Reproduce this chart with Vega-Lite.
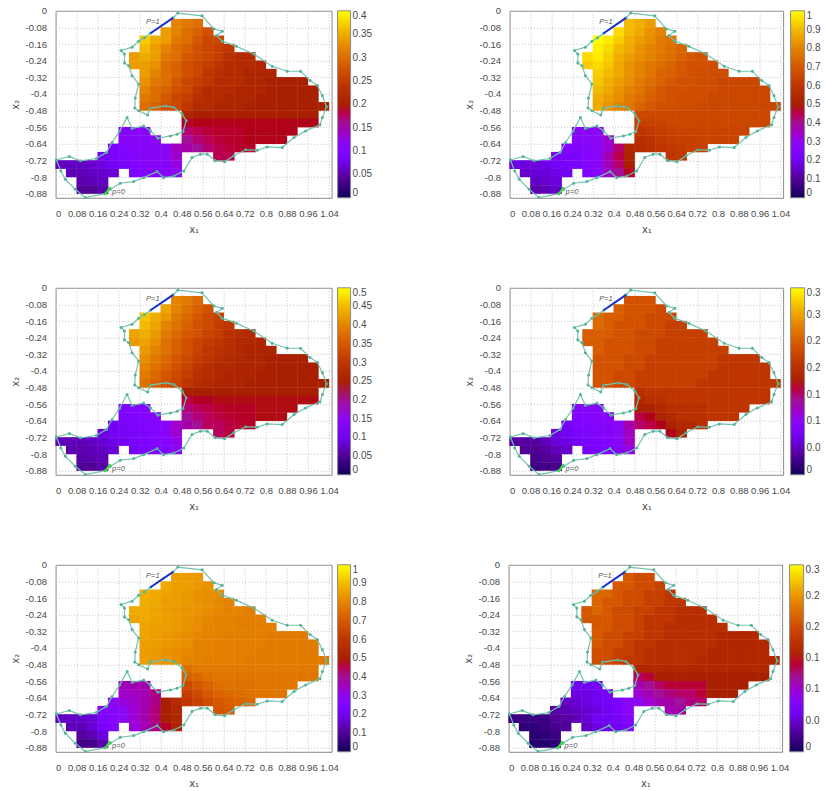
{"$schema":"https://vega.github.io/schema/vega-lite/v6.json","padding":{"left":9.6,"top":4.8,"right":0,"bottom":0},"background":"white","config":{"view":{"stroke":"#8a8a8a"},"axis":{"grid":true,"gridColor":"#c4c4c4","gridDash":[1,2],"ticks":false,"domain":false,"labelFont":"Liberation Sans","labelFontSize":9.5,"labelColor":"#4a4a4a","titleFont":"DejaVu Sans","titleFontSize":10,"titleFontWeight":"normal","titleColor":"#4a4a4a"},"legend":{"labelFont":"Liberation Sans","labelFontSize":10,"labelColor":"#4a4a4a","gradientStrokeColor":"#8a8a8a","gradientStrokeWidth":1,"labelOverlap":false}},
"datasets":{"cells":[
{"x":0.46,"y":-0.06,"a":0.32,"b":0.90,"c":0.40,"d":0.24,"e":0.85,"f":0.21},{"x":0.50,"y":-0.06,"a":0.31,"b":0.88,"c":0.39,"d":0.24,"e":0.85,"f":0.20},{"x":0.54,"y":-0.06,"a":0.30,"b":0.85,"c":0.37,"d":0.24,"e":0.84,"f":0.20},
{"x":0.42,"y":-0.10,"a":0.34,"b":0.95,"c":0.43,"d":0.25,"e":0.87,"f":0.21},{"x":0.46,"y":-0.10,"a":0.32,"b":0.90,"c":0.40,"d":0.24,"e":0.85,"f":0.21},{"x":0.50,"y":-0.10,"a":0.30,"b":0.87,"c":0.38,"d":0.24,"e":0.85,"f":0.20},{"x":0.54,"y":-0.10,"a":0.29,"b":0.83,"c":0.36,"d":0.24,"e":0.84,"f":0.20},{"x":0.58,"y":-0.10,"a":0.27,"b":0.80,"c":0.34,"d":0.23,"e":0.83,"f":0.19},
{"x":0.34,"y":-0.14,"a":0.37,"b":1.00,"c":0.46,"d":0.26,"e":0.88,"f":0.22},{"x":0.38,"y":-0.14,"a":0.35,"b":0.97,"c":0.44,"d":0.25,"e":0.87,"f":0.22},{"x":0.42,"y":-0.14,"a":0.34,"b":0.93,"c":0.42,"d":0.25,"e":0.86,"f":0.21},{"x":0.46,"y":-0.14,"a":0.31,"b":0.88,"c":0.39,"d":0.24,"e":0.85,"f":0.20},{"x":0.50,"y":-0.14,"a":0.30,"b":0.85,"c":0.37,"d":0.24,"e":0.84,"f":0.20},{"x":0.54,"y":-0.14,"a":0.28,"b":0.82,"c":0.35,"d":0.23,"e":0.83,"f":0.19},{"x":0.58,"y":-0.14,"a":0.26,"b":0.78,"c":0.33,"d":0.23,"e":0.82,"f":0.19},{"x":0.62,"y":-0.14,"a":0.26,"b":0.77,"c":0.32,"d":0.23,"e":0.82,"f":0.18},
{"x":0.34,"y":-0.18,"a":0.36,"b":0.98,"c":0.45,"d":0.26,"e":0.88,"f":0.22},{"x":0.38,"y":-0.18,"a":0.34,"b":0.95,"c":0.43,"d":0.25,"e":0.87,"f":0.21},{"x":0.42,"y":-0.18,"a":0.32,"b":0.90,"c":0.40,"d":0.24,"e":0.85,"f":0.21},{"x":0.46,"y":-0.18,"a":0.30,"b":0.87,"c":0.38,"d":0.24,"e":0.85,"f":0.20},{"x":0.50,"y":-0.18,"a":0.29,"b":0.83,"c":0.36,"d":0.24,"e":0.84,"f":0.20},{"x":0.54,"y":-0.18,"a":0.27,"b":0.80,"c":0.34,"d":0.23,"e":0.83,"f":0.19},{"x":0.58,"y":-0.18,"a":0.26,"b":0.78,"c":0.33,"d":0.23,"e":0.82,"f":0.19},{"x":0.62,"y":-0.18,"a":0.25,"b":0.75,"c":0.31,"d":0.22,"e":0.81,"f":0.18},{"x":0.66,"y":-0.18,"a":0.24,"b":0.73,"c":0.30,"d":0.22,"e":0.80,"f":0.18},
{"x":0.30,"y":-0.22,"a":0.34,"b":0.95,"c":0.43,"d":0.25,"e":0.87,"f":0.21},{"x":0.34,"y":-0.22,"a":0.35,"b":0.97,"c":0.44,"d":0.25,"e":0.87,"f":0.22},{"x":0.38,"y":-0.22,"a":0.34,"b":0.93,"c":0.42,"d":0.25,"e":0.86,"f":0.21},{"x":0.42,"y":-0.22,"a":0.31,"b":0.88,"c":0.39,"d":0.24,"e":0.85,"f":0.20},{"x":0.46,"y":-0.22,"a":0.30,"b":0.85,"c":0.37,"d":0.24,"e":0.84,"f":0.20},{"x":0.50,"y":-0.22,"a":0.28,"b":0.82,"c":0.35,"d":0.23,"e":0.83,"f":0.19},{"x":0.54,"y":-0.22,"a":0.27,"b":0.80,"c":0.34,"d":0.23,"e":0.83,"f":0.19},{"x":0.58,"y":-0.22,"a":0.26,"b":0.77,"c":0.32,"d":0.23,"e":0.82,"f":0.18},{"x":0.62,"y":-0.22,"a":0.25,"b":0.75,"c":0.31,"d":0.22,"e":0.81,"f":0.18},{"x":0.66,"y":-0.22,"a":0.23,"b":0.72,"c":0.29,"d":0.22,"e":0.80,"f":0.17},{"x":0.70,"y":-0.22,"a":0.22,"b":0.70,"c":0.28,"d":0.22,"e":0.80,"f":0.17},{"x":0.74,"y":-0.22,"a":0.22,"b":0.68,"c":0.27,"d":0.22,"e":0.79,"f":0.17},
{"x":0.30,"y":-0.26,"a":0.34,"b":0.93,"c":0.42,"d":0.25,"e":0.86,"f":0.21},{"x":0.34,"y":-0.26,"a":0.34,"b":0.95,"c":0.43,"d":0.25,"e":0.87,"f":0.21},{"x":0.38,"y":-0.26,"a":0.33,"b":0.92,"c":0.41,"d":0.24,"e":0.86,"f":0.21},{"x":0.42,"y":-0.26,"a":0.30,"b":0.87,"c":0.38,"d":0.24,"e":0.85,"f":0.20},{"x":0.46,"y":-0.26,"a":0.29,"b":0.83,"c":0.36,"d":0.24,"e":0.84,"f":0.20},{"x":0.50,"y":-0.26,"a":0.27,"b":0.80,"c":0.34,"d":0.23,"e":0.83,"f":0.19},{"x":0.54,"y":-0.26,"a":0.26,"b":0.77,"c":0.32,"d":0.23,"e":0.82,"f":0.18},{"x":0.58,"y":-0.26,"a":0.25,"b":0.75,"c":0.31,"d":0.22,"e":0.81,"f":0.18},{"x":0.62,"y":-0.26,"a":0.24,"b":0.73,"c":0.30,"d":0.22,"e":0.80,"f":0.18},{"x":0.66,"y":-0.26,"a":0.22,"b":0.70,"c":0.28,"d":0.22,"e":0.80,"f":0.17},{"x":0.70,"y":-0.26,"a":0.22,"b":0.68,"c":0.27,"d":0.22,"e":0.79,"f":0.17},{"x":0.74,"y":-0.26,"a":0.22,"b":0.68,"c":0.27,"d":0.22,"e":0.79,"f":0.17},{"x":0.78,"y":-0.26,"a":0.21,"b":0.67,"c":0.26,"d":0.22,"e":0.79,"f":0.17},
{"x":0.34,"y":-0.30,"a":0.34,"b":0.93,"c":0.42,"d":0.25,"e":0.86,"f":0.21},{"x":0.38,"y":-0.30,"a":0.32,"b":0.90,"c":0.40,"d":0.24,"e":0.85,"f":0.21},{"x":0.42,"y":-0.30,"a":0.30,"b":0.87,"c":0.38,"d":0.24,"e":0.85,"f":0.20},{"x":0.46,"y":-0.30,"a":0.29,"b":0.83,"c":0.36,"d":0.24,"e":0.84,"f":0.20},{"x":0.50,"y":-0.30,"a":0.27,"b":0.80,"c":0.34,"d":0.23,"e":0.83,"f":0.19},{"x":0.54,"y":-0.30,"a":0.26,"b":0.77,"c":0.32,"d":0.23,"e":0.82,"f":0.18},{"x":0.58,"y":-0.30,"a":0.24,"b":0.73,"c":0.30,"d":0.22,"e":0.80,"f":0.18},{"x":0.62,"y":-0.30,"a":0.23,"b":0.72,"c":0.29,"d":0.22,"e":0.80,"f":0.17},{"x":0.66,"y":-0.30,"a":0.22,"b":0.70,"c":0.28,"d":0.22,"e":0.80,"f":0.17},{"x":0.70,"y":-0.30,"a":0.22,"b":0.68,"c":0.27,"d":0.22,"e":0.79,"f":0.17},{"x":0.74,"y":-0.30,"a":0.21,"b":0.67,"c":0.26,"d":0.22,"e":0.79,"f":0.17},{"x":0.78,"y":-0.30,"a":0.21,"b":0.67,"c":0.26,"d":0.22,"e":0.79,"f":0.17},{"x":0.82,"y":-0.30,"a":0.21,"b":0.67,"c":0.26,"d":0.22,"e":0.79,"f":0.17},
{"x":0.34,"y":-0.34,"a":0.33,"b":0.92,"c":0.41,"d":0.24,"e":0.86,"f":0.21},{"x":0.38,"y":-0.34,"a":0.31,"b":0.88,"c":0.39,"d":0.24,"e":0.85,"f":0.20},{"x":0.42,"y":-0.34,"a":0.30,"b":0.85,"c":0.37,"d":0.24,"e":0.84,"f":0.20},{"x":0.46,"y":-0.34,"a":0.28,"b":0.82,"c":0.35,"d":0.23,"e":0.83,"f":0.19},{"x":0.50,"y":-0.34,"a":0.26,"b":0.78,"c":0.33,"d":0.23,"e":0.82,"f":0.19},{"x":0.54,"y":-0.34,"a":0.25,"b":0.75,"c":0.31,"d":0.22,"e":0.81,"f":0.18},{"x":0.58,"y":-0.34,"a":0.24,"b":0.73,"c":0.30,"d":0.22,"e":0.80,"f":0.18},{"x":0.62,"y":-0.34,"a":0.22,"b":0.70,"c":0.28,"d":0.22,"e":0.80,"f":0.17},{"x":0.66,"y":-0.34,"a":0.22,"b":0.68,"c":0.27,"d":0.22,"e":0.79,"f":0.17},{"x":0.70,"y":-0.34,"a":0.22,"b":0.68,"c":0.27,"d":0.22,"e":0.79,"f":0.17},{"x":0.74,"y":-0.34,"a":0.21,"b":0.67,"c":0.26,"d":0.22,"e":0.79,"f":0.17},{"x":0.78,"y":-0.34,"a":0.21,"b":0.67,"c":0.26,"d":0.22,"e":0.79,"f":0.17},{"x":0.82,"y":-0.34,"a":0.20,"b":0.65,"c":0.25,"d":0.21,"e":0.78,"f":0.16},{"x":0.86,"y":-0.34,"a":0.20,"b":0.65,"c":0.25,"d":0.21,"e":0.78,"f":0.16},{"x":0.90,"y":-0.34,"a":0.20,"b":0.65,"c":0.25,"d":0.21,"e":0.78,"f":0.16},{"x":0.94,"y":-0.34,"a":0.20,"b":0.65,"c":0.25,"d":0.21,"e":0.78,"f":0.16},
{"x":0.34,"y":-0.38,"a":0.32,"b":0.90,"c":0.40,"d":0.24,"e":0.85,"f":0.21},{"x":0.38,"y":-0.38,"a":0.30,"b":0.87,"c":0.38,"d":0.24,"e":0.85,"f":0.20},{"x":0.42,"y":-0.38,"a":0.29,"b":0.83,"c":0.36,"d":0.24,"e":0.84,"f":0.20},{"x":0.46,"y":-0.38,"a":0.27,"b":0.80,"c":0.34,"d":0.23,"e":0.83,"f":0.19},{"x":0.50,"y":-0.38,"a":0.26,"b":0.77,"c":0.32,"d":0.23,"e":0.82,"f":0.18},{"x":0.54,"y":-0.38,"a":0.24,"b":0.73,"c":0.30,"d":0.22,"e":0.80,"f":0.18},{"x":0.58,"y":-0.38,"a":0.22,"b":0.70,"c":0.28,"d":0.22,"e":0.80,"f":0.17},{"x":0.62,"y":-0.38,"a":0.22,"b":0.68,"c":0.27,"d":0.22,"e":0.79,"f":0.17},{"x":0.66,"y":-0.38,"a":0.22,"b":0.68,"c":0.27,"d":0.22,"e":0.79,"f":0.17},{"x":0.70,"y":-0.38,"a":0.21,"b":0.67,"c":0.26,"d":0.22,"e":0.79,"f":0.17},{"x":0.74,"y":-0.38,"a":0.21,"b":0.67,"c":0.26,"d":0.22,"e":0.79,"f":0.17},{"x":0.78,"y":-0.38,"a":0.21,"b":0.67,"c":0.26,"d":0.22,"e":0.79,"f":0.17},{"x":0.82,"y":-0.38,"a":0.20,"b":0.65,"c":0.25,"d":0.21,"e":0.78,"f":0.16},{"x":0.86,"y":-0.38,"a":0.20,"b":0.65,"c":0.25,"d":0.21,"e":0.78,"f":0.16},{"x":0.90,"y":-0.38,"a":0.20,"b":0.65,"c":0.25,"d":0.21,"e":0.78,"f":0.16},{"x":0.94,"y":-0.38,"a":0.20,"b":0.65,"c":0.25,"d":0.21,"e":0.78,"f":0.16},{"x":0.98,"y":-0.38,"a":0.20,"b":0.65,"c":0.25,"d":0.21,"e":0.78,"f":0.16},
{"x":0.34,"y":-0.42,"a":0.31,"b":0.88,"c":0.39,"d":0.24,"e":0.85,"f":0.20},{"x":0.38,"y":-0.42,"a":0.30,"b":0.85,"c":0.37,"d":0.24,"e":0.84,"f":0.20},{"x":0.42,"y":-0.42,"a":0.28,"b":0.82,"c":0.35,"d":0.23,"e":0.83,"f":0.19},{"x":0.46,"y":-0.42,"a":0.26,"b":0.78,"c":0.33,"d":0.23,"e":0.82,"f":0.19},{"x":0.50,"y":-0.42,"a":0.25,"b":0.75,"c":0.31,"d":0.22,"e":0.81,"f":0.18},{"x":0.54,"y":-0.42,"a":0.23,"b":0.72,"c":0.29,"d":0.22,"e":0.80,"f":0.17},{"x":0.58,"y":-0.42,"a":0.22,"b":0.70,"c":0.28,"d":0.22,"e":0.80,"f":0.17},{"x":0.62,"y":-0.42,"a":0.22,"b":0.68,"c":0.27,"d":0.22,"e":0.79,"f":0.17},{"x":0.66,"y":-0.42,"a":0.21,"b":0.67,"c":0.26,"d":0.22,"e":0.79,"f":0.17},{"x":0.70,"y":-0.42,"a":0.21,"b":0.67,"c":0.26,"d":0.22,"e":0.79,"f":0.17},{"x":0.74,"y":-0.42,"a":0.21,"b":0.67,"c":0.26,"d":0.22,"e":0.79,"f":0.17},{"x":0.78,"y":-0.42,"a":0.20,"b":0.65,"c":0.25,"d":0.21,"e":0.78,"f":0.16},{"x":0.82,"y":-0.42,"a":0.20,"b":0.65,"c":0.25,"d":0.21,"e":0.78,"f":0.16},{"x":0.86,"y":-0.42,"a":0.20,"b":0.65,"c":0.25,"d":0.21,"e":0.78,"f":0.16},{"x":0.90,"y":-0.42,"a":0.20,"b":0.65,"c":0.25,"d":0.21,"e":0.78,"f":0.16},{"x":0.94,"y":-0.42,"a":0.20,"b":0.65,"c":0.25,"d":0.21,"e":0.78,"f":0.16},{"x":0.98,"y":-0.42,"a":0.20,"b":0.65,"c":0.25,"d":0.21,"e":0.78,"f":0.16},
{"x":0.34,"y":-0.46,"a":0.30,"b":0.87,"c":0.38,"d":0.24,"e":0.85,"f":0.20},{"x":0.38,"y":-0.46,"a":0.29,"b":0.83,"c":0.36,"d":0.24,"e":0.84,"f":0.20},{"x":0.42,"y":-0.46,"a":0.27,"b":0.80,"c":0.34,"d":0.23,"e":0.83,"f":0.19},{"x":0.46,"y":-0.46,"a":0.26,"b":0.77,"c":0.32,"d":0.23,"e":0.82,"f":0.18},{"x":0.50,"y":-0.46,"a":0.24,"b":0.73,"c":0.30,"d":0.22,"e":0.80,"f":0.18},{"x":0.54,"y":-0.46,"a":0.22,"b":0.70,"c":0.28,"d":0.22,"e":0.80,"f":0.17},{"x":0.58,"y":-0.46,"a":0.22,"b":0.68,"c":0.27,"d":0.22,"e":0.79,"f":0.17},{"x":0.62,"y":-0.46,"a":0.21,"b":0.67,"c":0.26,"d":0.22,"e":0.79,"f":0.17},{"x":0.66,"y":-0.46,"a":0.21,"b":0.67,"c":0.26,"d":0.22,"e":0.79,"f":0.17},{"x":0.70,"y":-0.46,"a":0.21,"b":0.67,"c":0.26,"d":0.22,"e":0.79,"f":0.17},{"x":0.74,"y":-0.46,"a":0.20,"b":0.65,"c":0.25,"d":0.21,"e":0.78,"f":0.16},{"x":0.78,"y":-0.46,"a":0.20,"b":0.65,"c":0.25,"d":0.21,"e":0.78,"f":0.16},{"x":0.82,"y":-0.46,"a":0.20,"b":0.65,"c":0.25,"d":0.21,"e":0.78,"f":0.16},{"x":0.86,"y":-0.46,"a":0.20,"b":0.65,"c":0.25,"d":0.21,"e":0.78,"f":0.16},{"x":0.90,"y":-0.46,"a":0.20,"b":0.65,"c":0.25,"d":0.21,"e":0.78,"f":0.16},{"x":0.94,"y":-0.46,"a":0.20,"b":0.65,"c":0.25,"d":0.21,"e":0.78,"f":0.16},{"x":0.98,"y":-0.46,"a":0.20,"b":0.65,"c":0.25,"d":0.21,"e":0.78,"f":0.16},{"x":1.02,"y":-0.46,"a":0.20,"b":0.65,"c":0.25,"d":0.21,"e":0.78,"f":0.16},
{"x":0.50,"y":-0.50,"a":0.21,"b":0.66,"c":0.25,"d":0.20,"e":0.76,"f":0.16},{"x":0.54,"y":-0.50,"a":0.20,"b":0.65,"c":0.25,"d":0.21,"e":0.78,"f":0.16},{"x":0.58,"y":-0.50,"a":0.20,"b":0.65,"c":0.25,"d":0.21,"e":0.78,"f":0.16},{"x":0.62,"y":-0.50,"a":0.20,"b":0.65,"c":0.25,"d":0.21,"e":0.78,"f":0.16},{"x":0.66,"y":-0.50,"a":0.20,"b":0.65,"c":0.25,"d":0.21,"e":0.78,"f":0.16},{"x":0.70,"y":-0.50,"a":0.20,"b":0.65,"c":0.25,"d":0.21,"e":0.78,"f":0.16},{"x":0.74,"y":-0.50,"a":0.20,"b":0.65,"c":0.25,"d":0.21,"e":0.78,"f":0.16},{"x":0.78,"y":-0.50,"a":0.20,"b":0.65,"c":0.25,"d":0.21,"e":0.78,"f":0.16},{"x":0.82,"y":-0.50,"a":0.20,"b":0.65,"c":0.25,"d":0.21,"e":0.78,"f":0.16},{"x":0.86,"y":-0.50,"a":0.20,"b":0.65,"c":0.25,"d":0.21,"e":0.78,"f":0.16},{"x":0.90,"y":-0.50,"a":0.20,"b":0.65,"c":0.25,"d":0.21,"e":0.78,"f":0.16},{"x":0.94,"y":-0.50,"a":0.20,"b":0.65,"c":0.25,"d":0.21,"e":0.78,"f":0.16},{"x":0.98,"y":-0.50,"a":0.20,"b":0.65,"c":0.25,"d":0.21,"e":0.78,"f":0.16},
{"x":0.50,"y":-0.54,"a":0.19,"b":0.63,"c":0.23,"d":0.19,"e":0.72,"f":0.13},{"x":0.54,"y":-0.54,"a":0.195,"b":0.64,"c":0.24,"d":0.20,"e":0.74,"f":0.14},{"x":0.58,"y":-0.54,"a":0.195,"b":0.64,"c":0.24,"d":0.20,"e":0.76,"f":0.15},{"x":0.62,"y":-0.54,"a":0.195,"b":0.65,"c":0.245,"d":0.21,"e":0.77,"f":0.15},{"x":0.66,"y":-0.54,"a":0.195,"b":0.65,"c":0.245,"d":0.21,"e":0.77,"f":0.15},{"x":0.70,"y":-0.54,"a":0.195,"b":0.65,"c":0.245,"d":0.21,"e":0.77,"f":0.15},{"x":0.74,"y":-0.54,"a":0.195,"b":0.65,"c":0.245,"d":0.21,"e":0.77,"f":0.15},{"x":0.78,"y":-0.54,"a":0.195,"b":0.65,"c":0.245,"d":0.21,"e":0.77,"f":0.15},{"x":0.82,"y":-0.54,"a":0.195,"b":0.65,"c":0.245,"d":0.21,"e":0.77,"f":0.15},{"x":0.86,"y":-0.54,"a":0.195,"b":0.65,"c":0.245,"d":0.21,"e":0.77,"f":0.15},{"x":0.90,"y":-0.54,"a":0.195,"b":0.65,"c":0.245,"d":0.21,"e":0.77,"f":0.15},{"x":0.94,"y":-0.54,"a":0.195,"b":0.65,"c":0.245,"d":0.21,"e":0.77,"f":0.15},{"x":0.98,"y":-0.54,"a":0.195,"b":0.65,"c":0.245,"d":0.21,"e":0.77,"f":0.15},
{"x":0.26,"y":-0.58,"a":0.11,"b":0.28,"c":0.125,"d":0.095,"e":0.36,"f":0.06},{"x":0.30,"y":-0.58,"a":0.11,"b":0.28,"c":0.13,"d":0.095,"e":0.36,"f":0.06},{"x":0.34,"y":-0.58,"a":0.11,"b":0.30,"c":0.13,"d":0.095,"e":0.37,"f":0.06},{"x":0.50,"y":-0.58,"a":0.17,"b":0.60,"c":0.21,"d":0.18,"e":0.66,"f":0.11},{"x":0.54,"y":-0.58,"a":0.18,"b":0.61,"c":0.22,"d":0.18,"e":0.70,"f":0.12},{"x":0.58,"y":-0.58,"a":0.185,"b":0.62,"c":0.23,"d":0.19,"e":0.73,"f":0.13},{"x":0.62,"y":-0.58,"a":0.19,"b":0.63,"c":0.235,"d":0.20,"e":0.75,"f":0.14},{"x":0.66,"y":-0.58,"a":0.19,"b":0.64,"c":0.24,"d":0.20,"e":0.76,"f":0.14},{"x":0.70,"y":-0.58,"a":0.19,"b":0.64,"c":0.24,"d":0.20,"e":0.76,"f":0.14},{"x":0.74,"y":-0.58,"a":0.195,"b":0.64,"c":0.24,"d":0.20,"e":0.76,"f":0.14},{"x":0.78,"y":-0.58,"a":0.195,"b":0.64,"c":0.245,"d":0.21,"e":0.77,"f":0.15},{"x":0.82,"y":-0.58,"a":0.195,"b":0.64,"c":0.245,"d":0.21,"e":0.77,"f":0.15},{"x":0.86,"y":-0.58,"a":0.195,"b":0.64,"c":0.245,"d":0.21,"e":0.77,"f":0.15},{"x":0.90,"y":-0.58,"a":0.195,"b":0.64,"c":0.245,"d":0.21,"e":0.77,"f":0.15},
{"x":0.26,"y":-0.62,"a":0.11,"b":0.27,"c":0.12,"d":0.09,"e":0.34,"f":0.055},{"x":0.30,"y":-0.62,"a":0.11,"b":0.28,"c":0.125,"d":0.09,"e":0.35,"f":0.055},{"x":0.34,"y":-0.62,"a":0.11,"b":0.30,"c":0.13,"d":0.095,"e":0.37,"f":0.06},{"x":0.38,"y":-0.62,"a":0.12,"b":0.33,"c":0.135,"d":0.095,"e":0.41,"f":0.065},{"x":0.50,"y":-0.62,"a":0.16,"b":0.57,"c":0.20,"d":0.16,"e":0.62,"f":0.10},{"x":0.54,"y":-0.62,"a":0.17,"b":0.59,"c":0.21,"d":0.17,"e":0.66,"f":0.11},{"x":0.58,"y":-0.62,"a":0.18,"b":0.61,"c":0.22,"d":0.18,"e":0.70,"f":0.12},{"x":0.62,"y":-0.62,"a":0.185,"b":0.62,"c":0.23,"d":0.19,"e":0.73,"f":0.125},{"x":0.66,"y":-0.62,"a":0.19,"b":0.63,"c":0.235,"d":0.20,"e":0.74,"f":0.13},{"x":0.70,"y":-0.62,"a":0.19,"b":0.63,"c":0.24,"d":0.20,"e":0.75,"f":0.13},{"x":0.74,"y":-0.62,"a":0.195,"b":0.64,"c":0.24,"d":0.20,"e":0.76,"f":0.14},{"x":0.78,"y":-0.62,"a":0.195,"b":0.64,"c":0.245,"d":0.21,"e":0.77,"f":0.15},{"x":0.82,"y":-0.62,"a":0.195,"b":0.64,"c":0.245,"d":0.21,"e":0.77,"f":0.15},{"x":0.86,"y":-0.62,"a":0.195,"b":0.64,"c":0.245,"d":0.21,"e":0.77,"f":0.15},
{"x":0.22,"y":-0.66,"a":0.095,"b":0.25,"c":0.105,"d":0.075,"e":0.30,"f":0.045},{"x":0.26,"y":-0.66,"a":0.10,"b":0.26,"c":0.115,"d":0.085,"e":0.32,"f":0.05},{"x":0.30,"y":-0.66,"a":0.11,"b":0.27,"c":0.12,"d":0.09,"e":0.34,"f":0.055},{"x":0.34,"y":-0.66,"a":0.11,"b":0.29,"c":0.125,"d":0.09,"e":0.37,"f":0.06},{"x":0.38,"y":-0.66,"a":0.11,"b":0.33,"c":0.13,"d":0.095,"e":0.41,"f":0.065},{"x":0.42,"y":-0.66,"a":0.115,"b":0.43,"c":0.14,"d":0.10,"e":0.50,"f":0.07},{"x":0.46,"y":-0.66,"a":0.14,"b":0.53,"c":0.17,"d":0.13,"e":0.55,"f":0.085},{"x":0.50,"y":-0.66,"a":0.15,"b":0.55,"c":0.19,"d":0.15,"e":0.60,"f":0.09},{"x":0.54,"y":-0.66,"a":0.16,"b":0.57,"c":0.20,"d":0.16,"e":0.63,"f":0.10},{"x":0.58,"y":-0.66,"a":0.17,"b":0.60,"c":0.22,"d":0.17,"e":0.67,"f":0.11},{"x":0.62,"y":-0.66,"a":0.18,"b":0.61,"c":0.22,"d":0.18,"e":0.70,"f":0.115},{"x":0.66,"y":-0.66,"a":0.185,"b":0.62,"c":0.23,"d":0.19,"e":0.72,"f":0.12},{"x":0.70,"y":-0.66,"a":0.19,"b":0.63,"c":0.235,"d":0.19,"e":0.73,"f":0.125},{"x":0.74,"y":-0.66,"a":0.19,"b":0.63,"c":0.24,"d":0.20,"e":0.74,"f":0.13},
{"x":0.18,"y":-0.70,"a":0.08,"b":0.22,"c":0.09,"d":0.065,"e":0.26,"f":0.035},{"x":0.22,"y":-0.70,"a":0.09,"b":0.23,"c":0.10,"d":0.07,"e":0.28,"f":0.04},{"x":0.26,"y":-0.70,"a":0.095,"b":0.24,"c":0.11,"d":0.08,"e":0.30,"f":0.045},{"x":0.30,"y":-0.70,"a":0.105,"b":0.26,"c":0.115,"d":0.085,"e":0.33,"f":0.05},{"x":0.34,"y":-0.70,"a":0.11,"b":0.28,"c":0.12,"d":0.09,"e":0.37,"f":0.055},{"x":0.38,"y":-0.70,"a":0.11,"b":0.37,"c":0.13,"d":0.095,"e":0.42,"f":0.06},{"x":0.42,"y":-0.70,"a":0.115,"b":0.45,"c":0.14,"d":0.105,"e":0.50,"f":0.07},{"x":0.46,"y":-0.70,"a":0.135,"b":0.52,"c":0.165,"d":0.125,"e":0.54,"f":0.085},{"x":0.62,"y":-0.70,"a":0.18,"b":0.60,"c":0.22,"d":0.17,"e":0.69,"f":0.11},{"x":0.66,"y":-0.70,"a":0.18,"b":0.61,"c":0.23,"d":0.18,"e":0.71,"f":0.115},
{"x":0.02,"y":-0.74,"a":0.06,"b":0.18,"c":0.07,"d":0.04,"e":0.15,"f":0.02},{"x":0.06,"y":-0.74,"a":0.06,"b":0.18,"c":0.07,"d":0.04,"e":0.15,"f":0.02},{"x":0.10,"y":-0.74,"a":0.06,"b":0.18,"c":0.07,"d":0.04,"e":0.16,"f":0.02},{"x":0.14,"y":-0.74,"a":0.065,"b":0.19,"c":0.075,"d":0.05,"e":0.17,"f":0.02},{"x":0.18,"y":-0.74,"a":0.075,"b":0.21,"c":0.085,"d":0.06,"e":0.24,"f":0.03},{"x":0.22,"y":-0.74,"a":0.085,"b":0.23,"c":0.095,"d":0.065,"e":0.27,"f":0.035},{"x":0.26,"y":-0.74,"a":0.09,"b":0.24,"c":0.105,"d":0.075,"e":0.30,"f":0.04},{"x":0.30,"y":-0.74,"a":0.10,"b":0.26,"c":0.11,"d":0.08,"e":0.33,"f":0.05},{"x":0.34,"y":-0.74,"a":0.105,"b":0.28,"c":0.12,"d":0.085,"e":0.37,"f":0.06},{"x":0.38,"y":-0.74,"a":0.11,"b":0.36,"c":0.125,"d":0.09,"e":0.42,"f":0.06},{"x":0.42,"y":-0.74,"a":0.11,"b":0.43,"c":0.135,"d":0.10,"e":0.50,"f":0.065},{"x":0.46,"y":-0.74,"a":0.125,"b":0.50,"c":0.155,"d":0.12,"e":0.53,"f":0.08},
{"x":0.06,"y":-0.78,"a":0.055,"b":0.16,"c":0.065,"d":0.035,"e":0.14,"f":0.015},{"x":0.10,"y":-0.78,"a":0.055,"b":0.17,"c":0.065,"d":0.035,"e":0.14,"f":0.015},{"x":0.14,"y":-0.78,"a":0.06,"b":0.18,"c":0.07,"d":0.04,"e":0.17,"f":0.02},{"x":0.18,"y":-0.78,"a":0.065,"b":0.19,"c":0.075,"d":0.05,"e":0.22,"f":0.025},{"x":0.22,"y":-0.78,"a":0.07,"b":0.20,"c":0.085,"d":0.055,"e":0.25,"f":0.03},{"x":0.30,"y":-0.78,"a":0.095,"b":0.25,"c":0.105,"d":0.075,"e":0.32,"f":0.045},{"x":0.34,"y":-0.78,"a":0.10,"b":0.27,"c":0.115,"d":0.08,"e":0.36,"f":0.055},{"x":0.38,"y":-0.78,"a":0.105,"b":0.34,"c":0.12,"d":0.085,"e":0.41,"f":0.06},{"x":0.42,"y":-0.78,"a":0.11,"b":0.40,"c":0.13,"d":0.095,"e":0.48,"f":0.06},{"x":0.46,"y":-0.78,"a":0.12,"b":0.48,"c":0.145,"d":0.11,"e":0.52,"f":0.075},
{"x":0.10,"y":-0.82,"a":0.05,"b":0.15,"c":0.06,"d":0.03,"e":0.11,"f":0.012},{"x":0.14,"y":-0.82,"a":0.055,"b":0.16,"c":0.065,"d":0.035,"e":0.13,"f":0.015},{"x":0.18,"y":-0.82,"a":0.06,"b":0.18,"c":0.07,"d":0.04,"e":0.18,"f":0.02},
{"x":0.10,"y":-0.86,"a":0.04,"b":0.13,"c":0.05,"d":0.025,"e":0.08,"f":0.01},{"x":0.14,"y":-0.86,"a":0.04,"b":0.14,"c":0.05,"d":0.025,"e":0.08,"f":0.01},{"x":0.18,"y":-0.86,"a":0.05,"b":0.16,"c":0.06,"d":0.03,"e":0.13,"f":0.015}
],
"edge":[{"i":0,"x":0.003,"y":-0.718},{"i":1,"x":0.052,"y":-0.701},{"i":2,"x":0.094,"y":-0.722},{"i":3,"x":0.155,"y":-0.711},{"i":4,"x":0.193,"y":-0.682},{"i":5,"x":0.215,"y":-0.634},{"i":6,"x":0.244,"y":-0.578},{"i":7,"x":0.272,"y":-0.513},{"i":8,"x":0.291,"y":-0.566},{"i":9,"x":0.335,"y":-0.555},{"i":10,"x":0.361,"y":-0.578},{"i":11,"x":0.389,"y":-0.613},{"i":12,"x":0.437,"y":-0.602},{"i":13,"x":0.462,"y":-0.594},{"i":14,"x":0.485,"y":-0.581},{"i":15,"x":0.497,"y":-0.529},{"i":16,"x":0.481,"y":-0.497},{"i":17,"x":0.45,"y":-0.465},{"i":18,"x":0.418,"y":-0.458},{"i":19,"x":0.361,"y":-0.468},{"i":20,"x":0.35,"y":-0.502},{"i":21,"x":0.316,"y":-0.481},{"i":22,"x":0.301,"y":-0.468},{"i":23,"x":0.303,"y":-0.42},{"i":24,"x":0.316,"y":-0.352},{"i":25,"x":0.291,"y":-0.312},{"i":26,"x":0.278,"y":-0.264},{"i":27,"x":0.262,"y":-0.251},{"i":28,"x":0.262,"y":-0.208},{"i":29,"x":0.249,"y":-0.191},{"i":30,"x":0.291,"y":-0.175},{"i":31,"x":0.316,"y":-0.147},{"i":32,"x":0.338,"y":-0.13},{"i":33,"x":0.361,"y":-0.108},{"i":34,"x":0.447,"y":-0.034},{"i":35,"x":0.465,"y":-0.011},{"i":36,"x":0.557,"y":-0.024},{"i":37,"x":0.602,"y":-0.087},{"i":38,"x":0.634,"y":-0.098},{"i":39,"x":0.612,"y":-0.119},{"i":40,"x":0.634,"y":-0.146},{"i":41,"x":0.688,"y":-0.171},{"i":42,"x":0.754,"y":-0.208},{"i":43,"x":0.824,"y":-0.267},{"i":44,"x":0.881,"y":-0.291},{"i":45,"x":0.932,"y":-0.291},{"i":46,"x":0.968,"y":-0.336},{"i":47,"x":0.996,"y":-0.36},{"i":48,"x":1.015,"y":-0.409},{"i":49,"x":1.031,"y":-0.462},{"i":50,"x":1.015,"y":-0.513},{"i":51,"x":1.006,"y":-0.549},{"i":52,"x":0.951,"y":-0.578},{"i":53,"x":0.907,"y":-0.61},{"i":54,"x":0.862,"y":-0.658},{"i":55,"x":0.805,"y":-0.655},{"i":56,"x":0.767,"y":-0.671},{"i":57,"x":0.723,"y":-0.669},{"i":58,"x":0.678,"y":-0.698},{"i":59,"x":0.643,"y":-0.727},{"i":60,"x":0.608,"y":-0.722},{"i":61,"x":0.577,"y":-0.69},{"i":62,"x":0.551,"y":-0.69},{"i":63,"x":0.519,"y":-0.706},{"i":64,"x":0.488,"y":-0.771},{"i":65,"x":0.45,"y":-0.795},{"i":66,"x":0.411,"y":-0.803},{"i":67,"x":0.386,"y":-0.774},{"i":68,"x":0.335,"y":-0.803},{"i":69,"x":0.297,"y":-0.822},{"i":70,"x":0.246,"y":-0.83},{"i":71,"x":0.208,"y":-0.859},{"i":72,"x":0.189,"y":-0.88},{"i":73,"x":0.113,"y":-0.899},{"i":74,"x":0.075,"y":-0.859},{"i":75,"x":0.037,"y":-0.811},{"i":76,"x":0.02,"y":-0.771},{"i":77,"x":0.003,"y":-0.718}],
"blue":[{"x":0.361,"y":-0.108},{"x":0.447,"y":-0.034}],
"green":[{"x":0.187,"y":-0.885},{"x":0.208,"y":-0.848}],
"tags":[{"x":0.344,"y":-0.055,"t":"P=1"},{"x":0.215,"y":-0.872,"t":"p=0"}]},
"spacing":47,
"vconcat":[
{"spacing":90,"hconcat":[
{"width":276,"height":187,"encoding":{"x":{"field":"x","type":"quantitative","scale":{"domain":[0,1.05],"nice":false},"axis":{"values":[0,0.08,0.16,0.24,0.32,0.4,0.48,0.56,0.64,0.72,0.8,0.88,0.96,1.04],"format":".3~g","title":"x₁","labelPadding":11,"titlePadding":6}},"y":{"field":"y","type":"quantitative","scale":{"domain":[-0.9,0],"nice":false},"axis":{"values":[0,-0.08,-0.16,-0.24,-0.32,-0.4,-0.48,-0.56,-0.64,-0.72,-0.8,-0.88],"labelExpr":"''+round(datum.value*100)/100","title":"x₂","labelPadding":9,"titlePadding":4}}},
"layer":[{"data":{"name":"cells"},"mark":{"type":"rect","width":10.9,"height":8.7},"encoding":{"color":{"field":"a","type":"quantitative","scale":{"domain":[0,0.04,0.08,0.1,0.12,0.16,0.2,0.24,0.28,0.32,0.36,0.4],"range":["#000000","#510196","#7202f2","#8004ff","#8c07f2","#a11096","#a82000","#bf3500","#d55700","#e48300","#f2ba00","#ffff00"]},"legend":{"title":null,"orient":"none","legendX":282,"legendY":0,"gradientLength":187,"gradientThickness":13,"values":[0,0.05,0.1,0.15,0.2,0.25,0.3,0.35,0.4],"format":".3~g"}}}},
{"data":{"name":"edge"},"mark":{"type":"line","color":"#74c2b0","strokeWidth":1.2},"encoding":{"order":{"field":"i"}}},{"data":{"name":"edge"},"mark":{"type":"point","filled":true,"color":"#55b39c","size":9,"opacity":1},"encoding":{}},
{"data":{"name":"blue"},"mark":{"type":"line","color":"#1a2fd0","strokeWidth":2},"encoding":{}},{"data":{"name":"green"},"mark":{"type":"line","color":"#33e033","strokeWidth":2},"encoding":{}},{"data":{"name":"tags"},"mark":{"type":"text","align":"left","font":"Liberation Sans","fontStyle":"italic","fontSize":7.5,"color":"#555555"},"encoding":{"text":{"field":"t"}}}]},
{"width":273.5,"height":187,"encoding":{"x":{"field":"x","type":"quantitative","scale":{"domain":[0,1.05],"nice":false},"axis":{"values":[0,0.08,0.16,0.24,0.32,0.4,0.48,0.56,0.64,0.72,0.8,0.88,0.96,1.04],"format":".3~g","title":"x₁","labelPadding":11,"titlePadding":6}},"y":{"field":"y","type":"quantitative","scale":{"domain":[-0.9,0],"nice":false},"axis":{"values":[0,-0.08,-0.16,-0.24,-0.32,-0.4,-0.48,-0.56,-0.64,-0.72,-0.8,-0.88],"labelExpr":"''+round(datum.value*100)/100","title":"x₂","labelPadding":9,"titlePadding":4}}},
"layer":[{"data":{"name":"cells"},"mark":{"type":"rect","width":10.9,"height":8.7},"encoding":{"color":{"field":"b","type":"quantitative","scale":{"domain":[0,0.1,0.2,0.25,0.3,0.4,0.5,0.6,0.7,0.8,0.9,1],"range":["#000000","#510196","#7202f2","#8004ff","#8c07f2","#a11096","#a82000","#bf3500","#d55700","#e48300","#f2ba00","#ffff00"]},"legend":{"title":null,"orient":"none","legendX":281,"legendY":0,"gradientLength":187,"gradientThickness":14,"values":[0,0.1,0.2,0.3,0.4,0.5,0.6,0.7,0.8,0.9,1],"format":".3~g"}}}},
{"data":{"name":"edge"},"mark":{"type":"line","color":"#74c2b0","strokeWidth":1.2},"encoding":{"order":{"field":"i"}}},{"data":{"name":"edge"},"mark":{"type":"point","filled":true,"color":"#55b39c","size":9,"opacity":1},"encoding":{}},
{"data":{"name":"blue"},"mark":{"type":"line","color":"#1a2fd0","strokeWidth":2},"encoding":{}},{"data":{"name":"green"},"mark":{"type":"line","color":"#33e033","strokeWidth":2},"encoding":{}},{"data":{"name":"tags"},"mark":{"type":"text","align":"left","font":"Liberation Sans","fontStyle":"italic","fontSize":7.5,"color":"#555555"},"encoding":{"text":{"field":"t"}}}]}
],"resolve":{"scale":{"color":"independent"}}},
{"spacing":90,"hconcat":[
{"width":276,"height":187,"encoding":{"x":{"field":"x","type":"quantitative","scale":{"domain":[0,1.05],"nice":false},"axis":{"values":[0,0.08,0.16,0.24,0.32,0.4,0.48,0.56,0.64,0.72,0.8,0.88,0.96,1.04],"format":".3~g","title":"x₁","labelPadding":11,"titlePadding":6}},"y":{"field":"y","type":"quantitative","scale":{"domain":[-0.9,0],"nice":false},"axis":{"values":[0,-0.08,-0.16,-0.24,-0.32,-0.4,-0.48,-0.56,-0.64,-0.72,-0.8,-0.88],"labelExpr":"''+round(datum.value*100)/100","title":"x₂","labelPadding":9,"titlePadding":4}}},
"layer":[{"data":{"name":"cells"},"mark":{"type":"rect","width":10.9,"height":8.7},"encoding":{"color":{"field":"c","type":"quantitative","scale":{"domain":[0,0.05,0.1,0.125,0.15,0.2,0.25,0.3,0.35,0.4,0.45,0.5],"range":["#000000","#510196","#7202f2","#8004ff","#8c07f2","#a11096","#a82000","#bf3500","#d55700","#e48300","#f2ba00","#ffff00"]},"legend":{"title":null,"orient":"none","legendX":282,"legendY":0,"gradientLength":187,"gradientThickness":13,"values":[0,0.05,0.1,0.15,0.2,0.25,0.3,0.35,0.4,0.45,0.5],"format":".3~g"}}}},
{"data":{"name":"edge"},"mark":{"type":"line","color":"#74c2b0","strokeWidth":1.2},"encoding":{"order":{"field":"i"}}},{"data":{"name":"edge"},"mark":{"type":"point","filled":true,"color":"#55b39c","size":9,"opacity":1},"encoding":{}},
{"data":{"name":"blue"},"mark":{"type":"line","color":"#1a2fd0","strokeWidth":2},"encoding":{}},{"data":{"name":"green"},"mark":{"type":"line","color":"#33e033","strokeWidth":2},"encoding":{}},{"data":{"name":"tags"},"mark":{"type":"text","align":"left","font":"Liberation Sans","fontStyle":"italic","fontSize":7.5,"color":"#555555"},"encoding":{"text":{"field":"t"}}}]},
{"width":273.5,"height":187,"encoding":{"x":{"field":"x","type":"quantitative","scale":{"domain":[0,1.05],"nice":false},"axis":{"values":[0,0.08,0.16,0.24,0.32,0.4,0.48,0.56,0.64,0.72,0.8,0.88,0.96,1.04],"format":".3~g","title":"x₁","labelPadding":11,"titlePadding":6}},"y":{"field":"y","type":"quantitative","scale":{"domain":[-0.9,0],"nice":false},"axis":{"values":[0,-0.08,-0.16,-0.24,-0.32,-0.4,-0.48,-0.56,-0.64,-0.72,-0.8,-0.88],"labelExpr":"''+round(datum.value*100)/100","title":"x₂","labelPadding":9,"titlePadding":4}}},
"layer":[{"data":{"name":"cells"},"mark":{"type":"rect","width":10.9,"height":8.7},"encoding":{"color":{"field":"d","type":"quantitative","scale":{"domain":[0,0.035,0.07,0.0875,0.105,0.14,0.175,0.21,0.245,0.28,0.315,0.35],"range":["#000000","#510196","#7202f2","#8004ff","#8c07f2","#a11096","#a82000","#bf3500","#d55700","#e48300","#f2ba00","#ffff00"]},"legend":{"title":null,"orient":"none","legendX":281,"legendY":0,"gradientLength":187,"gradientThickness":14,"values":[0,0.05,0.1,0.15,0.2,0.25,0.3,0.35],"labelExpr":"datum.value==0?'0':format(floor(datum.value*10+0.01)/10,'.1f')"}}}},
{"data":{"name":"edge"},"mark":{"type":"line","color":"#74c2b0","strokeWidth":1.2},"encoding":{"order":{"field":"i"}}},{"data":{"name":"edge"},"mark":{"type":"point","filled":true,"color":"#55b39c","size":9,"opacity":1},"encoding":{}},
{"data":{"name":"blue"},"mark":{"type":"line","color":"#1a2fd0","strokeWidth":2},"encoding":{}},{"data":{"name":"green"},"mark":{"type":"line","color":"#33e033","strokeWidth":2},"encoding":{}},{"data":{"name":"tags"},"mark":{"type":"text","align":"left","font":"Liberation Sans","fontStyle":"italic","fontSize":7.5,"color":"#555555"},"encoding":{"text":{"field":"t"}}}]}
],"resolve":{"scale":{"color":"independent"}}},
{"spacing":95,"hconcat":[
{"width":276,"height":187,"encoding":{"x":{"field":"x","type":"quantitative","scale":{"domain":[0,1.05],"nice":false},"axis":{"values":[0,0.08,0.16,0.24,0.32,0.4,0.48,0.56,0.64,0.72,0.8,0.88,0.96,1.04],"format":".3~g","title":"x₁","labelPadding":11,"titlePadding":6}},"y":{"field":"y","type":"quantitative","scale":{"domain":[-0.9,0],"nice":false},"axis":{"values":[0,-0.08,-0.16,-0.24,-0.32,-0.4,-0.48,-0.56,-0.64,-0.72,-0.8,-0.88],"labelExpr":"''+round(datum.value*100)/100","title":"x₂","labelPadding":9,"titlePadding":4}}},
"layer":[{"data":{"name":"cells"},"mark":{"type":"rect","width":10.9,"height":8.7},"encoding":{"color":{"field":"e","type":"quantitative","scale":{"domain":[0,0.1,0.2,0.25,0.3,0.4,0.5,0.6,0.7,0.8,0.9,1],"range":["#000000","#510196","#7202f2","#8004ff","#8c07f2","#a11096","#a82000","#bf3500","#d55700","#e48300","#f2ba00","#ffff00"]},"legend":{"title":null,"orient":"none","legendX":282,"legendY":0,"gradientLength":187,"gradientThickness":13,"values":[0,0.1,0.2,0.3,0.4,0.5,0.6,0.7,0.8,0.9,1],"format":".3~g"}}}},
{"data":{"name":"edge"},"mark":{"type":"line","color":"#74c2b0","strokeWidth":1.2},"encoding":{"order":{"field":"i"}}},{"data":{"name":"edge"},"mark":{"type":"point","filled":true,"color":"#55b39c","size":9,"opacity":1},"encoding":{}},
{"data":{"name":"blue"},"mark":{"type":"line","color":"#1a2fd0","strokeWidth":2},"encoding":{}},{"data":{"name":"green"},"mark":{"type":"line","color":"#33e033","strokeWidth":2},"encoding":{}},{"data":{"name":"tags"},"mark":{"type":"text","align":"left","font":"Liberation Sans","fontStyle":"italic","fontSize":7.5,"color":"#555555"},"encoding":{"text":{"field":"t"}}}]},
{"width":273.5,"height":187,"encoding":{"x":{"field":"x","type":"quantitative","scale":{"domain":[0,1.05],"nice":false},"axis":{"values":[0,0.08,0.16,0.24,0.32,0.4,0.48,0.56,0.64,0.72,0.8,0.88,0.96,1.04],"format":".3~g","title":"x₁","labelPadding":11,"titlePadding":6}},"y":{"field":"y","type":"quantitative","scale":{"domain":[-0.9,0],"nice":false},"axis":{"values":[0,-0.08,-0.16,-0.24,-0.32,-0.4,-0.48,-0.56,-0.64,-0.72,-0.8,-0.88],"labelExpr":"''+round(datum.value*100)/100","title":"x₂","labelPadding":9,"titlePadding":4}}},
"layer":[{"data":{"name":"cells"},"mark":{"type":"rect","width":10.9,"height":8.7},"encoding":{"color":{"field":"f","type":"quantitative","scale":{"domain":[0,0.03,0.06,0.075,0.09,0.12,0.15,0.18,0.21,0.24,0.27,0.3],"range":["#000000","#510196","#7202f2","#8004ff","#8c07f2","#a11096","#a82000","#bf3500","#d55700","#e48300","#f2ba00","#ffff00"]},"legend":{"title":null,"orient":"none","legendX":281,"legendY":0,"gradientLength":187,"gradientThickness":14,"values":[0,0.05,0.1,0.15,0.2,0.25,0.3],"labelExpr":"datum.value==0?'0':format(floor(datum.value*10+0.01)/10,'.1f')"}}}},
{"data":{"name":"edge"},"mark":{"type":"line","color":"#74c2b0","strokeWidth":1.2},"encoding":{"order":{"field":"i"}}},{"data":{"name":"edge"},"mark":{"type":"point","filled":true,"color":"#55b39c","size":9,"opacity":1},"encoding":{}},
{"data":{"name":"blue"},"mark":{"type":"line","color":"#1a2fd0","strokeWidth":2},"encoding":{}},{"data":{"name":"green"},"mark":{"type":"line","color":"#33e033","strokeWidth":2},"encoding":{}},{"data":{"name":"tags"},"mark":{"type":"text","align":"left","font":"Liberation Sans","fontStyle":"italic","fontSize":7.5,"color":"#555555"},"encoding":{"text":{"field":"t"}}}]}
],"resolve":{"scale":{"color":"independent"}}}
],"resolve":{"scale":{"color":"independent"}}}
